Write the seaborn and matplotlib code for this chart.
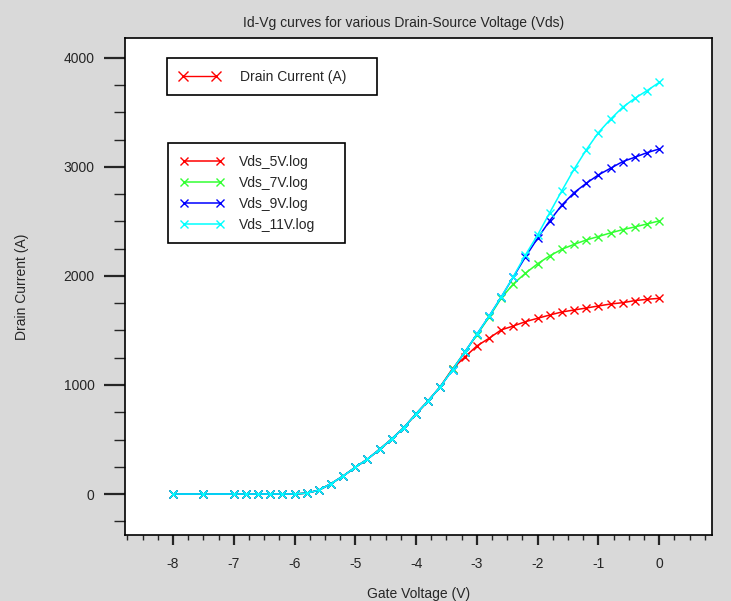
import numpy as np
import pandas as pd
import matplotlib
matplotlib.use("Agg")
import matplotlib.pyplot as plt
from matplotlib.lines import Line2D
from matplotlib.ticker import MultipleLocator
import seaborn as sns

# gate voltage sweep (V): -8, -7.5, then 0.2 V steps from -7 to 0
vg = [-8.0, -7.5, -7.0, -6.8, -6.6, -6.4, -6.2, -6.0, -5.8, -5.6, -5.4, -5.2,
      -5.0, -4.8, -4.6, -4.4, -4.2, -4.0, -3.8, -3.6, -3.4, -3.2, -3.0, -2.8,
      -2.6, -2.4, -2.2, -2.0, -1.8, -1.6, -1.4, -1.2, -1.0, -0.8, -0.6, -0.4,
      -0.2, 0.0]

id_5v = [0, 0, 0, 0, 0, 0, 0, 0, 8, 35, 95, 165,
         245, 320, 410, 505, 610, 735, 855, 985, 1150, 1255, 1358, 1428,
         1505, 1541, 1581, 1612, 1642, 1670, 1688, 1706, 1725, 1743, 1755, 1774,
         1786, 1795]
id_7v = [0, 0, 0, 0, 0, 0, 0, 0, 8, 35, 95, 165,
         245, 320, 410, 505, 610, 735, 855, 985, 1145, 1300, 1459, 1621,
         1795, 1927, 2025, 2112, 2185, 2245, 2290, 2330, 2362, 2395, 2425, 2450,
         2477, 2505]
id_9v = [0, 0, 0, 0, 0, 0, 0, 0, 8, 35, 95, 165,
         245, 320, 410, 505, 610, 735, 855, 985, 1140, 1300, 1465, 1630,
         1805, 1990, 2175, 2346, 2507, 2651, 2764, 2850, 2927, 2988, 3049, 3089,
         3131, 3165]
id_11v = [0, 0, 0, 0, 0, 0, 0, 0, 8, 35, 95, 165,
          245, 320, 410, 505, 610, 735, 855, 985, 1140, 1300, 1465, 1630,
          1805, 1994, 2193, 2376, 2581, 2783, 2979, 3156, 3315, 3438, 3548, 3630,
          3700, 3775]

series_names = ["Vds_5V.log", "Vds_7V.log", "Vds_9V.log", "Vds_11V.log"]
series_vals = [id_5v, id_7v, id_9v, id_11v]
colors = ["#ff0000", "#33ff33", "#0000ff", "#00ffff"]

df = pd.DataFrame({
    "Vg": vg * 4,
    "Id": sum(series_vals, []),
    "file": np.repeat(series_names, len(vg)),
})

sns.set_style("white")
plt.rcParams["font.family"] = ["Liberation Sans", "DejaVu Sans"]
plt.rcParams["font.size"] = 10
plt.rcParams["axes.unicode_minus"] = False

fig = plt.figure(figsize=(7.31, 6.01), dpi=100, facecolor="#d9d9d9")
ax = fig.add_axes([125 / 731, 1 - 535 / 601, 587 / 731, 497 / 601])
ax.set_facecolor("white")

for name, col in zip(series_names, colors):
    sub = df[df["file"] == name]
    sns.lineplot(data=sub, x="Vg", y="Id", color=col, marker="x",
                 markersize=6, markeredgewidth=1.0, markeredgecolor=col,
                 linewidth=1.1, label=name, ax=ax, sort=False)

ax.set_xlim(-8.79, 0.87)
ax.set_ylim(-376, 4183)
ax.xaxis.set_major_locator(MultipleLocator(1))
ax.xaxis.set_minor_locator(MultipleLocator(0.25))
ax.yaxis.set_major_locator(MultipleLocator(1000))
ax.yaxis.set_minor_locator(MultipleLocator(250))
ax.tick_params(axis="x", which="major", direction="out", length=7.5, width=1.6,
               pad=8, labelsize=10, bottom=True)
ax.tick_params(axis="x", which="minor", direction="out", length=3.8, width=1.0,
               bottom=True)
ax.tick_params(axis="y", which="major", direction="out", length=15, width=1.6,
               pad=7, labelsize=10, left=True)
ax.tick_params(axis="y", which="minor", direction="out", length=8, width=1.0,
               left=True)
for sp in ax.spines.values():
    sp.set_color("black")
    sp.set_linewidth(1.2)

ax.set_xlabel("Gate Voltage (V)", fontsize=10)
ax.set_ylabel("Drain Current (A)", fontsize=10)
ax.xaxis.set_label_coords(0.5, -0.105)
ax.yaxis.set_label_coords(-0.164, 0.5)
ax.set_title("Id-Vg curves for various Drain-Source Voltage (Vds)",
             fontsize=10, x=0.475, pad=8)

handles, labels = ax.get_legend_handles_labels()
leg2 = ax.legend(handles, labels, loc="upper left",
                 bbox_to_anchor=(0.073, 0.589, 0.302, 0.2), mode="expand",
                 borderaxespad=0, numpoints=2, handlelength=3.2,
                 handletextpad=1.1, borderpad=0.85, labelspacing=0.5,
                 fancybox=False, edgecolor="black", framealpha=1, fontsize=10)
leg2.get_frame().set_linewidth(1.2)
ax.add_artist(leg2)

proxy = Line2D([], [], color="#ff0000", marker="x", markersize=7,
               markeredgewidth=1.0, linewidth=1.0)
leg1 = ax.legend([proxy], ["Drain Current (A)"], loc="upper left",
                 bbox_to_anchor=(0.0716, 0.91, 0.358, 0.05), mode="expand",
                 borderaxespad=0, numpoints=2, handlelength=3.0,
                 handletextpad=1.4, borderpad=0.85, fancybox=False,
                 edgecolor="black", framealpha=1, fontsize=10)
leg1.get_frame().set_linewidth(1.2)

fig.savefig("out.png", dpi=100, facecolor=fig.get_facecolor())
